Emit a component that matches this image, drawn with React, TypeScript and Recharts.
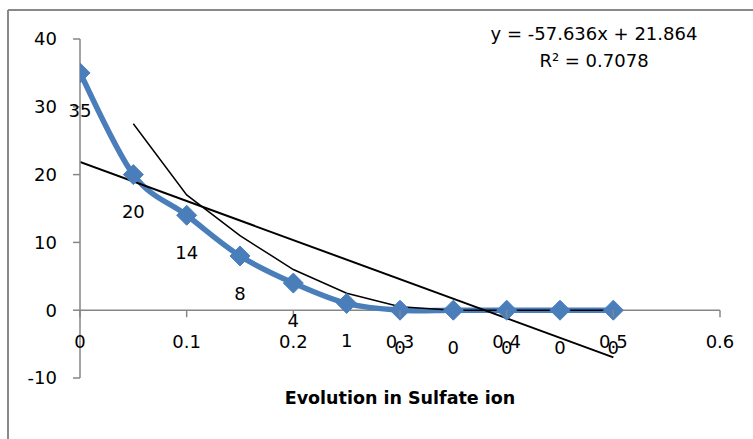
import React from 'react';
import { ComposedChart, Line, XAxis, YAxis, ReferenceLine, LabelList } from 'recharts';

// ---- data ----
const xValues = [0, 0.05, 0.1, 0.15, 0.2, 0.25, 0.3, 0.35, 0.4, 0.45, 0.5];
const sulfateValues = [35, 20, 14, 8, 4, 1, 0, 0, 0, 0, 0];
const movingAvgX = [0.05, 0.1, 0.15, 0.2, 0.25, 0.3, 0.35, 0.4, 0.45, 0.5];
const movingAvgValues = [27.5, 17, 11, 6, 2.5, 0.5, 0, 0, 0, 0];
const linearTrendX = [0, 0.5];
const linearTrendValues = [21.864, -6.954];
const xTicks = [0, 0.1, 0.2, 0.3, 0.4, 0.5, 0.6];
const yTicks = [-10, 0, 10, 20, 30, 40];
const equationText = 'y = -57.636x + 21.864';
const r2Text = 'R² = 0.7078';
const xAxisTitle = 'Evolution in Sulfate ion';

const sulfateData = xValues.map((x, i) => ({ x, y: sulfateValues[i] }));
const maData = movingAvgX.map((x, i) => ({ x, y: movingAvgValues[i] }));
const trendData = linearTrendX.map((x, i) => ({ x, y: linearTrendValues[i] }));

// ---- layout ----
const W = 753;
const H = 439;
const TOP = 39;
const PLOT_BOTTOM = 378;
const PLOT_H = PLOT_BOTTOM - TOP;
const Y_MIN = -10;
const Y_MAX = 40;
const ZERO_Y = TOP + (PLOT_H * Y_MAX) / (Y_MAX - Y_MIN);
const FONT = '"DejaVu Sans", sans-serif';
const FS = 18;
const BLUE = '#4A7EBB';
const AXIS_GRAY = '#868686';

// Excel-like smoothed line (Catmull-Rom style bezier through the points)
const smoothCurve = (context: any) => {
  let pts: [number, number][] = [];
  return {
    areaStart() {},
    areaEnd() {},
    lineStart() {
      pts = [];
    },
    point(x: number, y: number) {
      pts.push([+x, +y]);
    },
    lineEnd() {
      const n = pts.length;
      if (n === 0) return;
      context.moveTo(pts[0][0], pts[0][1]);
      if (n === 1) return;
      for (let i = 0; i < n - 1; i++) {
        const p0 = pts[i > 0 ? i - 1 : i];
        const p1 = pts[i];
        const p2 = pts[i + 1];
        const p3 = pts[i + 2 < n ? i + 2 : i + 1];
        const c1x = p1[0] + (p2[0] - p0[0]) / 6;
        const c1y = p1[1] + (p2[1] - p0[1]) / 6;
        const c2x = p2[0] - (p3[0] - p1[0]) / 6;
        const c2y = p2[1] - (p3[1] - p1[1]) / 6;
        context.bezierCurveTo(c1x, c1y, c2x, c2y, p2[0], p2[1]);
      }
    },
  };
};

const Diamond = (props: any) => {
  const { cx, cy } = props;
  if (cx == null || cy == null) return null;
  const r = 10;
  return (
    <polygon
      points={`${cx},${cy - r} ${cx + r},${cy} ${cx},${cy + r} ${cx - r},${cy}`}
      fill={BLUE}
      stroke={BLUE}
      strokeWidth={1}
    />
  );
};

const XTick = (props: any) => {
  const { x, payload } = props;
  return (
    <g>
      <line x1={x} x2={x} y1={ZERO_Y} y2={ZERO_Y + 7} stroke={AXIS_GRAY} strokeWidth={1.5} />
      <text
        x={x}
        y={ZERO_Y + 31}
        textAnchor="middle"
        dominantBaseline="central"
        fontFamily={FONT}
        fontSize={FS}
        fill="#000"
      >
        {payload.value}
      </text>
    </g>
  );
};

export default function App() {
  return (
    <div style={{ position: 'fixed', left: 0, top: 0, width: W, height: H, background: '#fff' }}>
      <ComposedChart
        width={W}
        height={H}
        margin={{ top: TOP, right: 33, bottom: 0, left: 0 }}
      >
        <XAxis
          type="number"
          dataKey="x"
          domain={[0, 0.6]}
          ticks={xTicks}
          axisLine={false}
          tickLine={false}
          tick={<XTick />}
          height={H - PLOT_BOTTOM}
          interval={0}
          allowDataOverflow
        />
        <YAxis
          type="number"
          domain={[Y_MIN, Y_MAX]}
          ticks={yTicks}
          width={80}
          axisLine={{ stroke: AXIS_GRAY, strokeWidth: 1.5 }}
          tickLine={{ stroke: AXIS_GRAY, strokeWidth: 1.5 }}
          tickSize={7}
          tickMargin={16}
          tick={{ fill: '#000', fontSize: FS, fontFamily: FONT }}
          interval={0}
        />
        <ReferenceLine y={0} stroke={AXIS_GRAY} strokeWidth={1.5} />
        <Line
          data={sulfateData}
          dataKey="y"
          type={smoothCurve as any}
          stroke={BLUE}
          strokeWidth={5.5}
          dot={<Diamond />}
          activeDot={false}
          isAnimationActive={false}
        >
          <LabelList
            dataKey="y"
            position="bottom"
            offset={31}
            fill="#000"
            fontSize={FS}
            fontFamily={FONT}
          />
        </Line>
        <Line
          data={maData}
          dataKey="y"
          type="linear"
          stroke="#000"
          strokeWidth={1.5}
          dot={false}
          activeDot={false}
          isAnimationActive={false}
        />
        <Line
          data={trendData}
          dataKey="y"
          type="linear"
          stroke="#000"
          strokeWidth={2}
          dot={false}
          activeDot={false}
          isAnimationActive={false}
        />
      </ComposedChart>
      <svg
        width={W}
        height={H}
        style={{ position: 'absolute', left: 0, top: 0, pointerEvents: 'none' }}
      >
        <line x1={8} y1={10} x2={W} y2={10} stroke="#898989" strokeWidth={2} />
        <line x1={8} y1={10} x2={8} y2={H} stroke="#898989" strokeWidth={2} />
        <text x={594} y={33} textAnchor="middle" dominantBaseline="central" fontFamily={FONT} fontSize={FS} fill="#000">
          {equationText}
        </text>
        <text x={594} y={60} textAnchor="middle" dominantBaseline="central" fontFamily={FONT} fontSize={FS} fill="#000">
          {r2Text}
        </text>
        <text x={400} y={398} textAnchor="middle" dominantBaseline="central" fontFamily={FONT} fontSize={17.5} fontWeight="bold" fill="#000">
          {xAxisTitle}
        </text>
      </svg>
    </div>
  );
}
